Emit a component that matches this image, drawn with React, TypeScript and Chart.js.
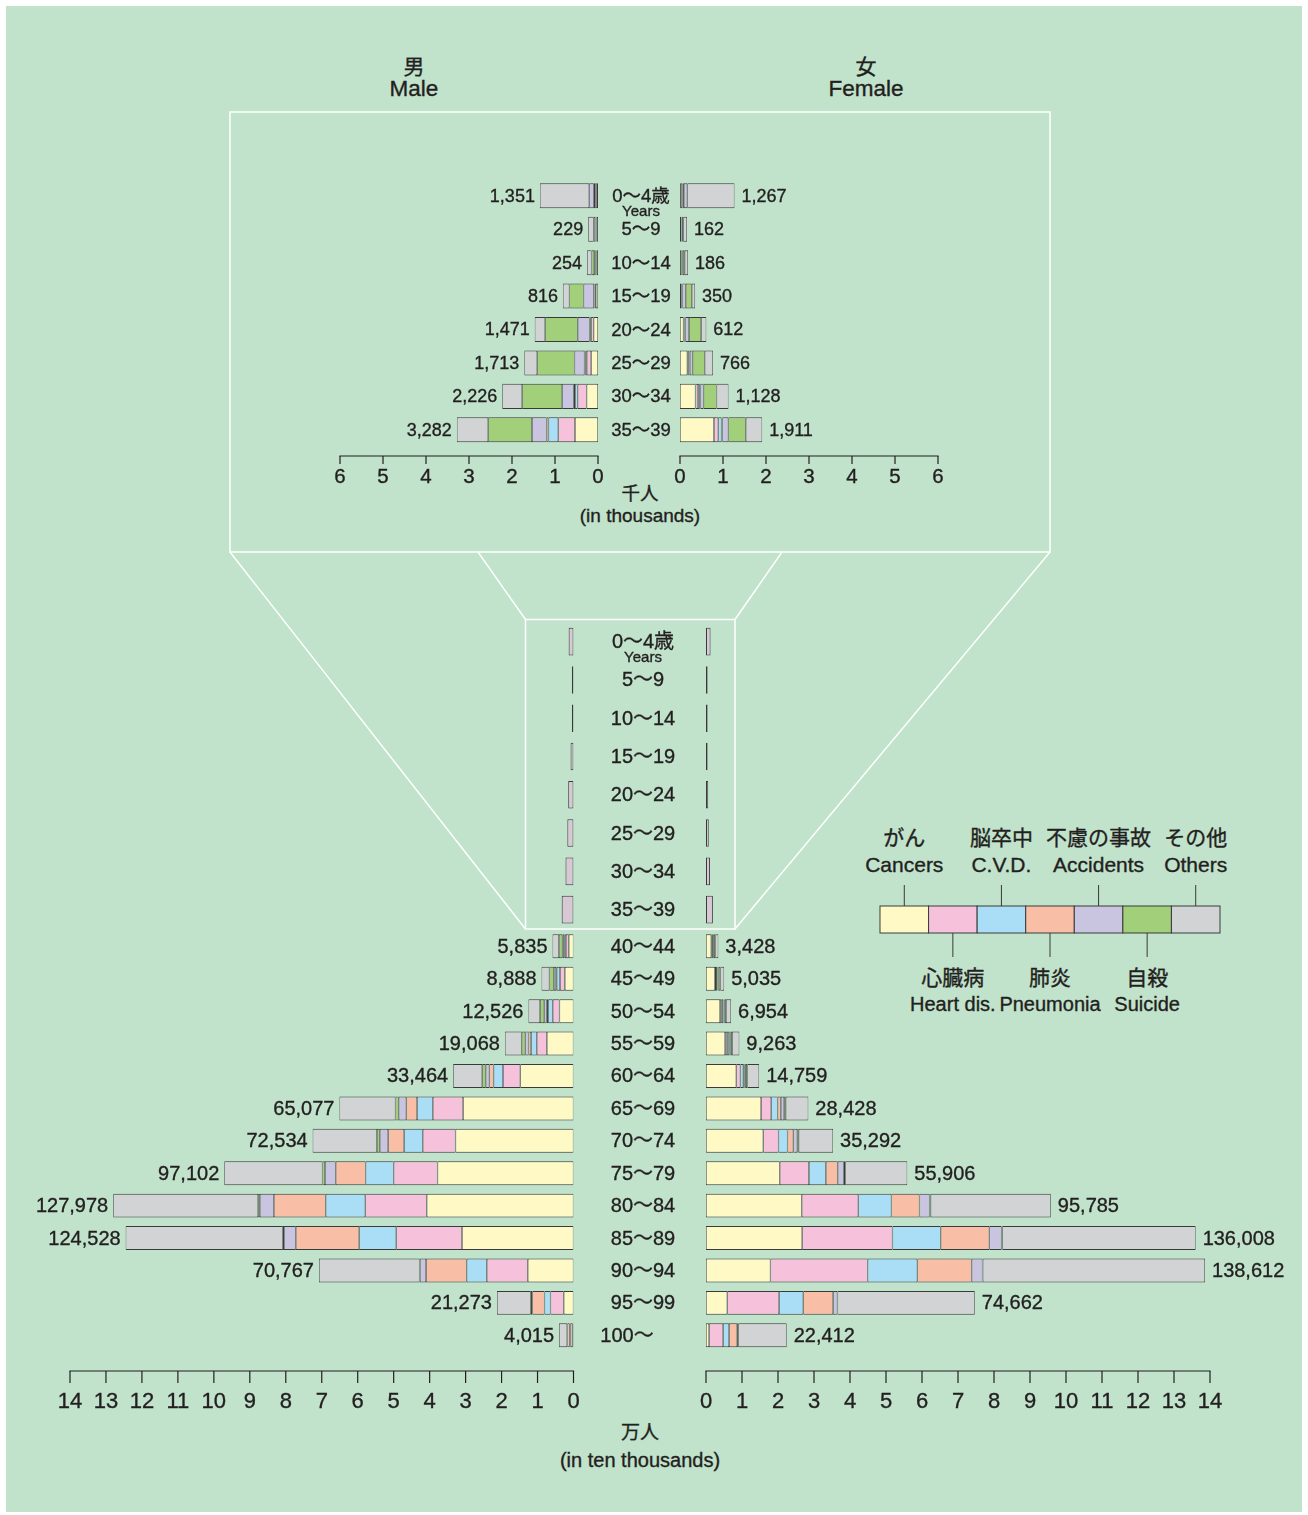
import React, { useEffect, useRef } from 'react';
import { Chart, registerables } from 'chart.js';

Chart.register(...registerables);

const FONT = '"Liberation Sans", Arial, "Noto Sans CJK JP", sans-serif';
const TEXT = '#231f20';
const BG = '#c1e2cb';
const EDGE = '#3a3a3a';
const INSET_FILL = '#d8c7d5';
const TEXT_STROKE = 0.35;

// ---------- categories ----------
const causesJa = ['がん', '心臓病', '脳卒中', '肺炎', '不慮の事故', '自殺', 'その他'];
const causesEn = ['Cancers', 'Heart dis.', 'C.V.D.', 'Pneumonia', 'Accidents', 'Suicide', 'Others'];
const causeColors = ['#fffac5', '#f6c1da', '#a9def6', '#f8bea6', '#c9c4e0', '#a2cf79', '#d1d3d4'];

const youngAges = ['0〜4歳', '5〜9', '10〜14', '15〜19', '20〜24', '25〜29', '30〜34', '35〜39'];
const firstAgeSub = 'Years';
const olderAges = ['40〜44', '45〜49', '50〜54', '55〜59', '60〜64', '65〜69', '70〜74', '75〜79', '80〜84', '85〜89', '90〜94', '95〜99', '100〜'];

const thousandTicks = [0, 1, 2, 3, 4, 5, 6];
const tenThousandTicks = [0, 1, 2, 3, 4, 5, 6, 7, 8, 9, 10, 11, 12, 13, 14];

// ---------- male, ages 0-39 (persons) ----------
const maleYoungTotals = [1351, 229, 254, 816, 1471, 1713, 2226, 3282];
const maleYoungCancers = [25, 35, 35, 50, 100, 160, 264, 535];
const maleYoungHeart = [40, 10, 10, 25, 60, 100, 209, 390];
const maleYoungCVD = [5, 5, 5, 10, 20, 35, 60, 225];
const maleYoungPneumonia = [25, 10, 5, 10, 15, 20, 30, 45];
const maleYoungAccidents = [110, 40, 35, 240, 275, 230, 272, 340];
const maleYoungSuicide = [0, 0, 60, 330, 760, 870, 930, 1020];
const maleYoungOthers = [1146, 129, 104, 151, 241, 298, 461, 727];

// ---------- female, ages 0-39 (persons) ----------
const femaleYoungTotals = [1267, 162, 186, 350, 612, 766, 1128, 1911];
const femaleYoungCancers = [20, 30, 35, 30, 80, 170, 360, 790];
const femaleYoungHeart = [40, 10, 10, 15, 25, 35, 60, 100];
const femaleYoungCVD = [5, 5, 5, 5, 10, 15, 40, 75];
const femaleYoungPneumonia = [25, 5, 5, 5, 10, 10, 15, 20];
const femaleYoungAccidents = [80, 25, 15, 80, 85, 65, 75, 140];
const femaleYoungSuicide = [0, 0, 40, 140, 280, 280, 300, 405];
const femaleYoungOthers = [1097, 87, 76, 75, 122, 191, 278, 381];

// ---------- male, ages 40+ (persons) ----------
const maleOlderTotals = [5835, 8888, 12526, 19068, 33464, 65077, 72534, 97102, 127978, 124528, 70767, 21273, 4015];
const maleOlderCancers = [1300, 2400, 3900, 7400, 14800, 30700, 32800, 37800, 40800, 31000, 12700, 2700, 200];
const maleOlderHeart = [800, 1350, 1850, 2800, 4800, 8400, 9100, 12200, 17100, 18300, 11400, 3700, 600];
const maleOlderCVD = [450, 900, 1300, 1600, 2600, 4400, 5200, 7800, 11000, 10300, 5600, 1650, 250];
const maleOlderPneumonia = [100, 200, 400, 700, 1200, 3000, 4450, 8300, 14400, 17600, 11300, 3400, 650];
const maleOlderAccidents = [450, 600, 700, 900, 1000, 2100, 2300, 3000, 3900, 3300, 1700, 400, 70];
const maleOlderSuicide = [950, 1250, 1150, 1000, 1000, 900, 800, 700, 500, 300, 100, 10, 0];
const maleOlderOthers = [1785, 2188, 3226, 4668, 8064, 15577, 17884, 27302, 40278, 43728, 27967, 9413, 2245];

// ---------- female, ages 40+ (persons) ----------
const femaleOlderTotals = [3428, 5035, 6954, 9263, 14759, 28428, 35292, 55906, 95785, 136008, 138612, 74662, 22412];
const femaleOlderCancers = [1450, 2500, 3900, 5300, 8400, 15300, 15900, 20500, 26600, 26700, 17900, 5900, 850];
const femaleOlderHeart = [200, 300, 450, 550, 1150, 2800, 4250, 8100, 15700, 25100, 27000, 14400, 3900];
const femaleOlderCVD = [250, 400, 450, 550, 800, 1800, 2500, 4700, 9200, 13400, 13800, 6700, 1650];
const femaleOlderPneumonia = [50, 80, 100, 150, 350, 900, 1600, 3300, 7800, 13500, 15100, 8300, 2250];
const femaleOlderAccidents = [200, 200, 200, 250, 350, 900, 1100, 1700, 2800, 3400, 3000, 1200, 300];
const femaleOlderSuicide = [450, 500, 450, 450, 450, 450, 400, 350, 300, 200, 80, 10, 0];
const femaleOlderOthers = [828, 1055, 1404, 2013, 3259, 6278, 9542, 17256, 33385, 53708, 61732, 38152, 13462];

const maleYoung = [maleYoungCancers, maleYoungHeart, maleYoungCVD, maleYoungPneumonia, maleYoungAccidents, maleYoungSuicide, maleYoungOthers];
const femaleYoung = [femaleYoungCancers, femaleYoungHeart, femaleYoungCVD, femaleYoungPneumonia, femaleYoungAccidents, femaleYoungSuicide, femaleYoungOthers];
const maleOlder = [maleOlderCancers, maleOlderHeart, maleOlderCVD, maleOlderPneumonia, maleOlderAccidents, maleOlderSuicide, maleOlderOthers];
const femaleOlder = [femaleOlderCancers, femaleOlderHeart, femaleOlderCVD, femaleOlderPneumonia, femaleOlderAccidents, femaleOlderSuicide, femaleOlderOthers];

// ---------- helpers ----------
type Decor = {
  side: 'left' | 'right';
  unit: number;
  totals?: number[];
  valueFont?: number;
  ticks?: number[];
  axisGap?: number;
  tickLen?: number;
  labelGap?: number;
  tickFont?: number;
  ages?: string[];
  ageFont?: number;
  ageDx?: number;
  sub?: string;
};

function txt(ctx: CanvasRenderingContext2D, s: string, x: number, y: number) {
  ctx.fillText(s, x, y);
  ctx.lineWidth = TEXT_STROKE;
  ctx.strokeText(s, x, y);
}

function decorPlugin(d: Decor) {
  return {
    id: 'decor',
    afterDatasetsDraw(chart: any) {
      const { ctx, chartArea } = chart;
      const xs = chart.scales.x;
      const ys = chart.scales.y;
      ctx.save();
      ctx.fillStyle = TEXT;
      ctx.strokeStyle = TEXT;
      ctx.textBaseline = 'middle';
      if (d.totals) {
        ctx.font = `${d.valueFont || 18}px ${FONT}`;
        ctx.textAlign = d.side === 'left' ? 'right' : 'left';
        d.totals.forEach((t, i) => {
          const x = xs.getPixelForValue(t / d.unit);
          const y = ys.getPixelForValue(i) + 1;
          txt(ctx, t.toLocaleString('en-US'), d.side === 'left' ? x - 5 : x + 7, y);
        });
      }
      if (d.ticks) {
        const y0 = chartArea.bottom + (d.axisGap || 0);
        const xa = xs.getPixelForValue(d.ticks[0]);
        const xb = xs.getPixelForValue(d.ticks[d.ticks.length - 1]);
        ctx.lineWidth = 1.2;
        ctx.beginPath();
        ctx.moveTo(Math.min(xa, xb) - 0.6, y0);
        ctx.lineTo(Math.max(xa, xb) + 0.6, y0);
        ctx.stroke();
        ctx.font = `${d.tickFont || 20}px ${FONT}`;
        ctx.textAlign = 'center';
        d.ticks.forEach((t) => {
          const x = xs.getPixelForValue(t);
          ctx.lineWidth = 1.2;
          ctx.beginPath();
          ctx.moveTo(x, y0);
          ctx.lineTo(x, y0 + (d.tickLen || 8));
          ctx.stroke();
          txt(ctx, String(t), x, y0 + (d.labelGap || 18));
        });
      }
      if (d.ages) {
        const cx = chartArea.left - (d.ageDx || 0);
        ctx.textAlign = 'center';
        d.ages.forEach((a, i) => {
          const y = ys.getPixelForValue(i);
          const x = a.endsWith('〜') ? cx - 16 : cx;
          ctx.font = `${d.ageFont || 18}px ${FONT}`;
          txt(ctx, a, x, y + 1);
          if (i === 0 && d.sub) {
            ctx.font = `15px ${FONT}`;
            txt(ctx, d.sub, cx, y + 16);
          }
        });
      }
      ctx.restore();
    },
  };
}

function stackSets(series: number[][], unit: number, barPct: number) {
  return series.map((vals, k) => ({
    label: causesEn[k],
    data: vals.map((v) => v / unit),
    backgroundColor: causeColors[k],
    borderColor: EDGE,
    borderWidth: { top: 1, bottom: 1, left: 0.7, right: 0.7 },
    borderSkipped: false,
    barPercentage: barPct,
    categoryPercentage: 1,
  }));
}

function totalSet(totals: number[], unit: number, barPct: number) {
  return [
    {
      label: 'total',
      data: totals.map((v) => v / unit),
      backgroundColor: INSET_FILL,
      borderColor: EDGE,
      borderWidth: 1,
      borderSkipped: false,
      minBarLength: 1.6,
      barPercentage: barPct,
      categoryPercentage: 1,
    },
  ];
}

function makeConfig(labels: string[], datasets: any[], reverse: boolean, max: number, padding: any, decor: Decor) {
  return {
    type: 'bar' as const,
    data: { labels, datasets },
    options: {
      indexAxis: 'y' as const,
      responsive: false,
      animation: false as const,
      devicePixelRatio: 1,
      layout: { padding },
      scales: {
        x: { stacked: true, min: 0, max, reverse, display: false },
        y: { stacked: true, display: false },
      },
      plugins: { legend: { display: false }, tooltip: { enabled: false } },
    },
    plugins: [decorPlugin(decor)],
  };
}

function ChartCanvas(props: { left: number; top: number; width: number; height: number; make: () => any }) {
  const ref = useRef<HTMLCanvasElement>(null);
  useEffect(() => {
    const chart = new Chart(ref.current as HTMLCanvasElement, props.make());
    return () => chart.destroy();
  }, []);
  return (
    <canvas
      ref={ref}
      width={props.width}
      height={props.height}
      style={{ position: 'absolute', left: props.left, top: props.top, width: props.width, height: props.height }}
    />
  );
}

// ---------- layout ----------
const topPad = { top: 9.1, bottom: 63.5 };
const insetPad = { top: 22.5, bottom: 11.2 };
const lowPad = { top: 15.1, bottom: 78.5 };

function T(props: { x: number; y: number; s: number; children: any; anchor?: string }) {
  return (
    <text
      x={props.x}
      y={props.y}
      fontSize={props.s}
      fontFamily={FONT}
      fill={TEXT}
      stroke={TEXT}
      strokeWidth={TEXT_STROKE}
      textAnchor={props.anchor || 'middle'}
      dominantBaseline="central"
    >
      {props.children}
    </text>
  );
}

function Legend() {
  const x0 = 880;
  const w = 340 / 7;
  const y0 = 906;
  const h = 27;
  return (
    <g>
      {causeColors.map((c, i) => (
        <rect key={'r' + i} x={x0 + i * w} y={y0} width={w} height={h} fill={c} stroke={EDGE} strokeWidth={1} />
      ))}
      {causesEn.map((en, i) => {
        const cx = x0 + (i + 0.5) * w;
        const up = i % 2 === 0;
        return (
          <g key={'l' + i}>
            <line x1={cx} x2={cx} y1={up ? 885 : y0 + h} y2={up ? y0 : 957} stroke={EDGE} strokeWidth={1} />
            <T x={cx} y={up ? 837 : 977} s={21}>{causesJa[i]}</T>
            <T x={cx} y={up ? 864 : 1004} s={up ? 21 : 20}>{en}</T>
          </g>
        );
      })}
    </g>
  );
}

export default function App() {
  return (
    <div style={{ position: 'absolute', left: 0, top: 0, width: 1308, height: 1515, background: '#ffffff', overflow: 'hidden' }}>
      <div style={{ position: 'absolute', left: 6, top: 6, width: 1296, height: 1506, background: BG }} />
      <svg style={{ position: 'absolute', left: 0, top: 0 }} width={1308} height={1515}>
        <g stroke="#ffffff" strokeWidth={1.5} fill="none">
          <rect x={230} y={112} width={820} height={440} />
          <rect x={525.5} y={619.5} width={209.5} height={309.5} />
          <line x1={230} y1={552} x2={525.5} y2={929} />
          <line x1={478} y1={552} x2={525.5} y2={619.5} />
          <line x1={782} y1={552} x2={735} y2={619.5} />
          <line x1={1050} y1={552} x2={735} y2={929} />
        </g>
        <T x={414} y={66} s={21}>男</T>
        <T x={414} y={88} s={22.5}>Male</T>
        <T x={866} y={66} s={21}>女</T>
        <T x={866} y={88} s={22.5}>Female</T>
        <T x={640} y={493} s={18.5}>千人</T>
        <T x={640} y={515} s={19}>(in thousands)</T>
        <T x={640} y={1432} s={19}>万人</T>
        <T x={640} y={1460} s={20}>(in ten thousands)</T>
        <Legend />
      </svg>

      {/* top: ages 0-39 in thousands */}
      <ChartCanvas
        left={300}
        top={170}
        width={312}
        height={340}
        make={() =>
          makeConfig(youngAges, stackSets(maleYoung, 1000, 0.75), true, 6, { left: 40, right: 14, ...topPad }, {
            side: 'left', unit: 1000, totals: maleYoungTotals, valueFont: 18, ticks: thousandTicks, axisGap: 9.5, tickLen: 8, labelGap: 21, tickFont: 20.5,
          })
        }
      />
      <ChartCanvas
        left={600}
        top={170}
        width={360}
        height={340}
        make={() =>
          makeConfig(youngAges, stackSets(femaleYoung, 1000, 0.75), false, 6, { left: 80, right: 22, ...topPad }, {
            side: 'right', unit: 1000, totals: femaleYoungTotals, valueFont: 18, ticks: thousandTicks, axisGap: 9.5, tickLen: 8, labelGap: 21, tickFont: 20.5,
            ages: youngAges, ageFont: 18.5, ageDx: 39, sub: firstAgeSub,
          })
        }
      />

      {/* inset: ages 0-39 at the main scale */}
      <ChartCanvas
        left={60}
        top={600}
        width={530}
        height={340}
        make={() =>
          makeConfig(youngAges, totalSet(maleYoungTotals, 10000, 0.72), true, 14, { left: 10, right: 16.5, ...insetPad }, {
            side: 'left', unit: 10000,
          })
        }
      />
      <ChartCanvas
        left={590}
        top={600}
        width={710}
        height={340}
        make={() =>
          makeConfig(youngAges, totalSet(femaleYoungTotals, 10000, 0.72), false, 14, { left: 116, right: 90, ...insetPad }, {
            side: 'right', unit: 10000, ages: youngAges, ageFont: 20, ageDx: 63, sub: firstAgeSub,
          })
        }
      />

      {/* bottom: ages 40+ in ten thousands */}
      <ChartCanvas
        left={10}
        top={915}
        width={580}
        height={515}
        make={() =>
          makeConfig(olderAges, stackSets(maleOlder, 10000, 0.74), true, 14, { left: 60, right: 16.5, ...lowPad }, {
            side: 'left', unit: 10000, totals: maleOlderTotals, valueFont: 20, ticks: tenThousandTicks, axisGap: 19.5, tickLen: 12, labelGap: 31, tickFont: 22,
          })
        }
      />
      <ChartCanvas
        left={590}
        top={915}
        width={710}
        height={515}
        make={() =>
          makeConfig(olderAges, stackSets(femaleOlder, 10000, 0.74), false, 14, { left: 116, right: 90, ...lowPad }, {
            side: 'right', unit: 10000, totals: femaleOlderTotals, valueFont: 20, ticks: tenThousandTicks, axisGap: 19.5, tickLen: 12, labelGap: 31, tickFont: 22,
            ages: olderAges, ageFont: 20, ageDx: 63,
          })
        }
      />
    </div>
  );
}
